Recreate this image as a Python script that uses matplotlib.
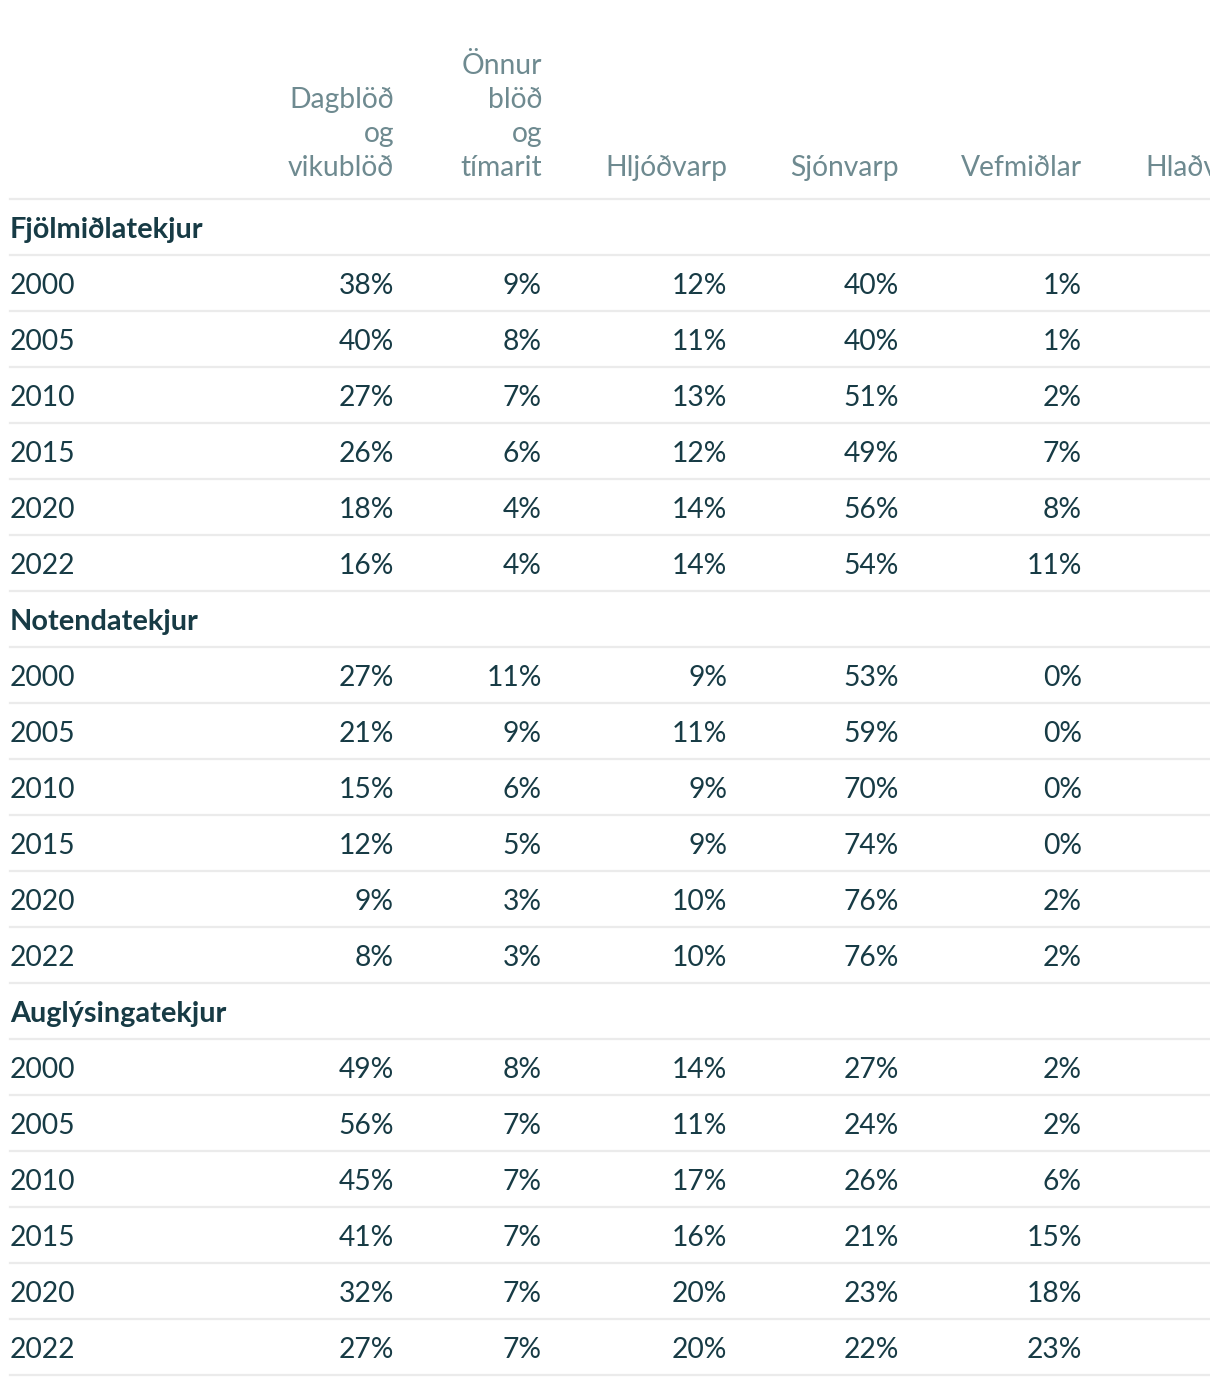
import matplotlib
matplotlib.use("Agg")
import matplotlib.pyplot as plt
from matplotlib.lines import Line2D

# ---- data ----
columns = ["Dagblöð\nog\nvikublöð", "Önnur\nblöð\nog\ntímarit", "Hljóðvarp",
           "Sjónvarp", "Vefmiðlar", "Hlaðvörp"]
years = ["2000", "2005", "2010", "2015", "2020", "2022"]
groups = ["Fjölmiðlatekjur", "Notendatekjur", "Auglýsingatekjur"]

fjolmidlatekjur = [
    [38, 9, 12, 40, 1],
    [40, 8, 11, 40, 1],
    [27, 7, 13, 51, 2],
    [26, 6, 12, 49, 7],
    [18, 4, 14, 56, 8],
    [16, 4, 14, 54, 11],
]
notendatekjur = [
    [27, 11, 9, 53, 0],
    [21, 9, 11, 59, 0],
    [15, 6, 9, 70, 0],
    [12, 5, 9, 74, 0],
    [9, 3, 10, 76, 2],
    [8, 3, 10, 76, 2],
]
auglysingatekjur = [
    [49, 8, 14, 27, 2],
    [56, 7, 11, 24, 2],
    [45, 7, 17, 26, 6],
    [41, 7, 16, 21, 15],
    [32, 7, 20, 23, 18],
    [27, 7, 20, 22, 23],
]
group_values = [fjolmidlatekjur, notendatekjur, auglysingatekjur]

# ---- style / layout ----
W, H = 1220, 1386
VIS_W = 1210
TEXT = "#173b45"
HEAD = "#6e8a90"
LINE = "#ebebeb"
FONT = "Lato"
FS = 20.3
FS_BOLD = 20.8
col_right = [394, 542, 727, 899, 1082, 1261]
label_x = 10
header_bottom = 199
row_h = 56
head_line_step = 34
cap_half = 10

fig = plt.figure(figsize=(W / 100, H / 100), dpi=100)
ax = fig.add_axes([0, 0, VIS_W / W, 1])
ax.set_xlim(0, VIS_W)
ax.set_ylim(H, 0)
ax.axis("off")

# header (last column is cut off at the right edge, as in the reference)
for ci, col in enumerate(columns):
    lines = col.split("\n")
    for li, txt in enumerate(reversed(lines)):
        yc = header_bottom - 33 - li * head_line_step
        ax.text(col_right[ci], yc + cap_half, txt, ha="right", va="baseline",
                fontsize=FS, color=HEAD, family=FONT, clip_on=True)

def hline(y):
    ax.add_line(Line2D([10, VIS_W], [y, y], color=LINE, lw=1.6))

hline(header_bottom)

y = header_bottom
for gname, vals in zip(groups, group_values):
    yc = y + row_h / 2 + 1
    ax.text(label_x, yc + cap_half, gname, ha="left", va="baseline",
            fontsize=FS_BOLD, color=TEXT, family=FONT, fontweight="bold")
    y += row_h
    hline(y)
    for yr, row in zip(years, vals):
        yc = y + row_h / 2 + 1
        ax.text(label_x, yc + cap_half, yr, ha="left", va="baseline",
                fontsize=FS, color=TEXT, family=FONT)
        for ci, v in enumerate(row):
            ax.text(col_right[ci], yc + cap_half, f"{v}%", ha="right", va="baseline",
                    fontsize=FS, color=TEXT, family=FONT)
        y += row_h
        hline(y)

fig.savefig("out.png", dpi=100, facecolor="white")
